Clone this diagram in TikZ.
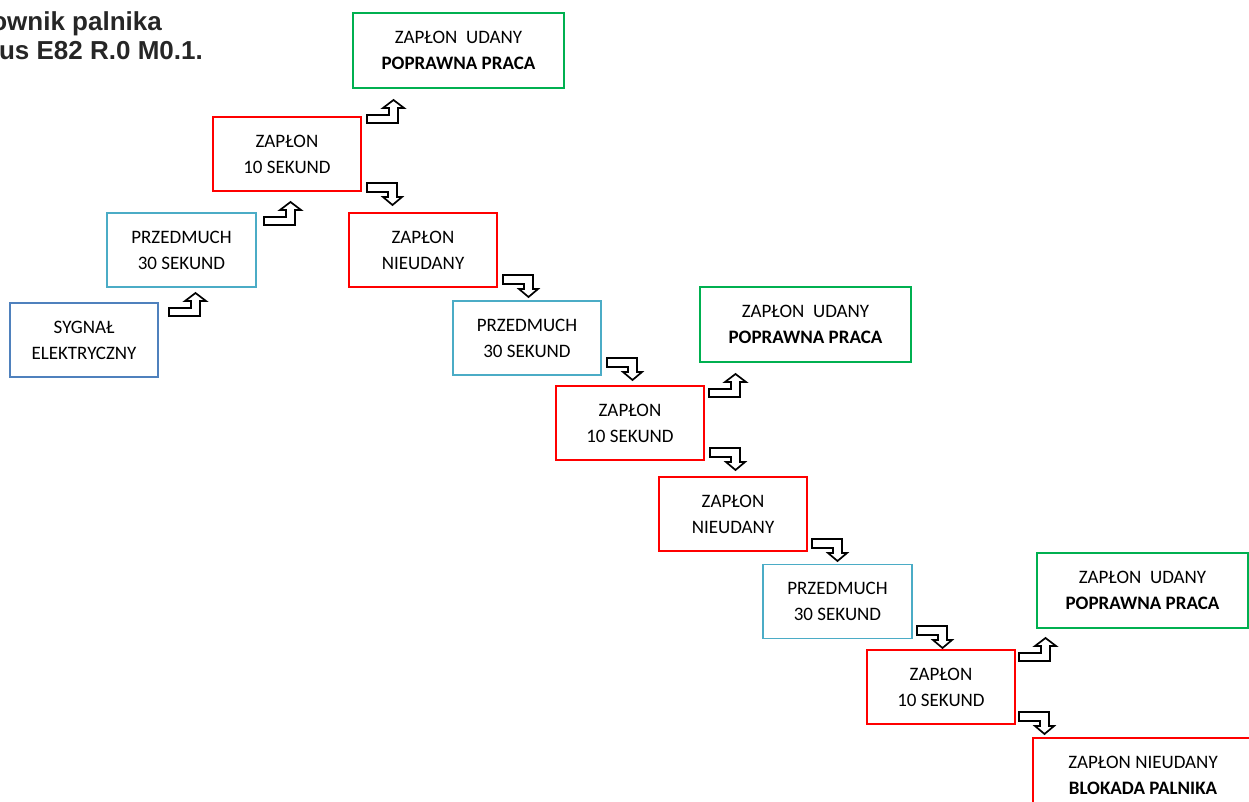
\documentclass[tikz,border=0pt]{standalone}
\usepackage{fontspec}
\setmainfont{Carlito}
\newfontfamily\titlefont{Liberation Sans}
\definecolor{cred}{HTML}{FF0000}
\definecolor{cgreen}{HTML}{00B050}
\definecolor{cblue}{HTML}{4BACC6}
\definecolor{cdblue}{HTML}{4F81BD}
\definecolor{ctitle}{HTML}{262626}
\tikzset{
  box/.style={draw, line width=1.8pt, minimum width=148pt, minimum height=74pt,
    inner sep=0pt, align=center, font={\fontsize{19}{26}\selectfont}},
  widebox/.style={box, minimum width=211pt, minimum height=75pt},
  redbox/.style={box, draw=cred},
  bluebox/.style={box, draw=cblue},
  dbluebox/.style={box, draw=cdblue},
  greenbox/.style={widebox, draw=cgreen},
  bigredbox/.style={widebox, draw=cred},
  arrowline/.style={draw=black, fill=white, line width=1.7pt, line join=miter},
  uparr/.pic={\path[arrowline] (0,0)--(31,0)--(31,-15)--(37,-15)--(26.5,-23)--(16,-15)--(22,-15)--(22,-8)--(0,-8)--cycle;},
  downarr/.pic={\path[arrowline] (0,0)--(30,0)--(30,14)--(35,14)--(25.5,22)--(16,14)--(21,14)--(21,9)--(0,9)--cycle;},
  titletext/.style={inner sep=0pt, text=ctitle, font={\titlefont\bfseries\fontsize{26}{30}\selectfont}}
}
\begin{document}
\begin{tikzpicture}[x=1pt, y=-1pt]
\useasboundingbox (0,0) rectangle (1249,802);
% title (cut at the left edge)
\node[titletext, anchor=base east] (t1) at (162,31) {ownik palnika};
\node[titletext, anchor=base east] (t2) at (203,60) {us E82 R.0 M0.1.};
% boxes
\node[greenbox] (b1) at (458.5,50.5) {ZAPŁON\ \ UDANY\\\textbf{POPRAWNA PRACA}};
\node[redbox] (b2) at (287,154) {ZAPŁON\\10 SEKUND};
\node[bluebox, minimum width=149pt] (b3) at (181.5,250) {PRZEDMUCH\\30 SEKUND};
\node[dbluebox] (b4) at (84,340) {SYGNAŁ\\ELEKTRYCZNY};
\node[redbox] (b5) at (423,250) {ZAPŁON\\NIEUDANY};
\node[bluebox] (b6) at (527,338) {PRZEDMUCH\\30 SEKUND};
\node[greenbox] (b7) at (805.5,324.5) {ZAPŁON\ \ UDANY\\\textbf{POPRAWNA PRACA}};
\node[redbox] (b8) at (630,423) {ZAPŁON\\10 SEKUND};
\node[redbox] (b9) at (733,514) {ZAPŁON\\NIEUDANY};
\node[bluebox, minimum width=149pt] (b10) at (837.5,601.5) {PRZEDMUCH\\30 SEKUND};
\node[greenbox] (b11) at (1142.5,590.5) {ZAPŁON\ \ UDANY\\\textbf{POPRAWNA PRACA}};
\node[redbox] (b12) at (941,687) {ZAPŁON\\10 SEKUND};
\node[bigredbox, minimum width=220pt] (b13) at (1143,775.5) {ZAPŁON NIEUDANY\\\textbf{BLOKADA PALNIKA}};
% block arrows
\pic at (169,316) {uparr};
\pic at (264,225) {uparr};
\pic at (367,123) {uparr};
\pic at (709,397) {uparr};
\pic at (1019,661) {uparr};
\pic at (367,183) {downarr};
\pic at (503,275) {downarr};
\pic at (607,358) {downarr};
\pic at (710,448) {downarr};
\pic at (812,539) {downarr};
\pic at (917,626) {downarr};
\pic at (1019,712) {downarr};
\end{tikzpicture}
\end{document}
